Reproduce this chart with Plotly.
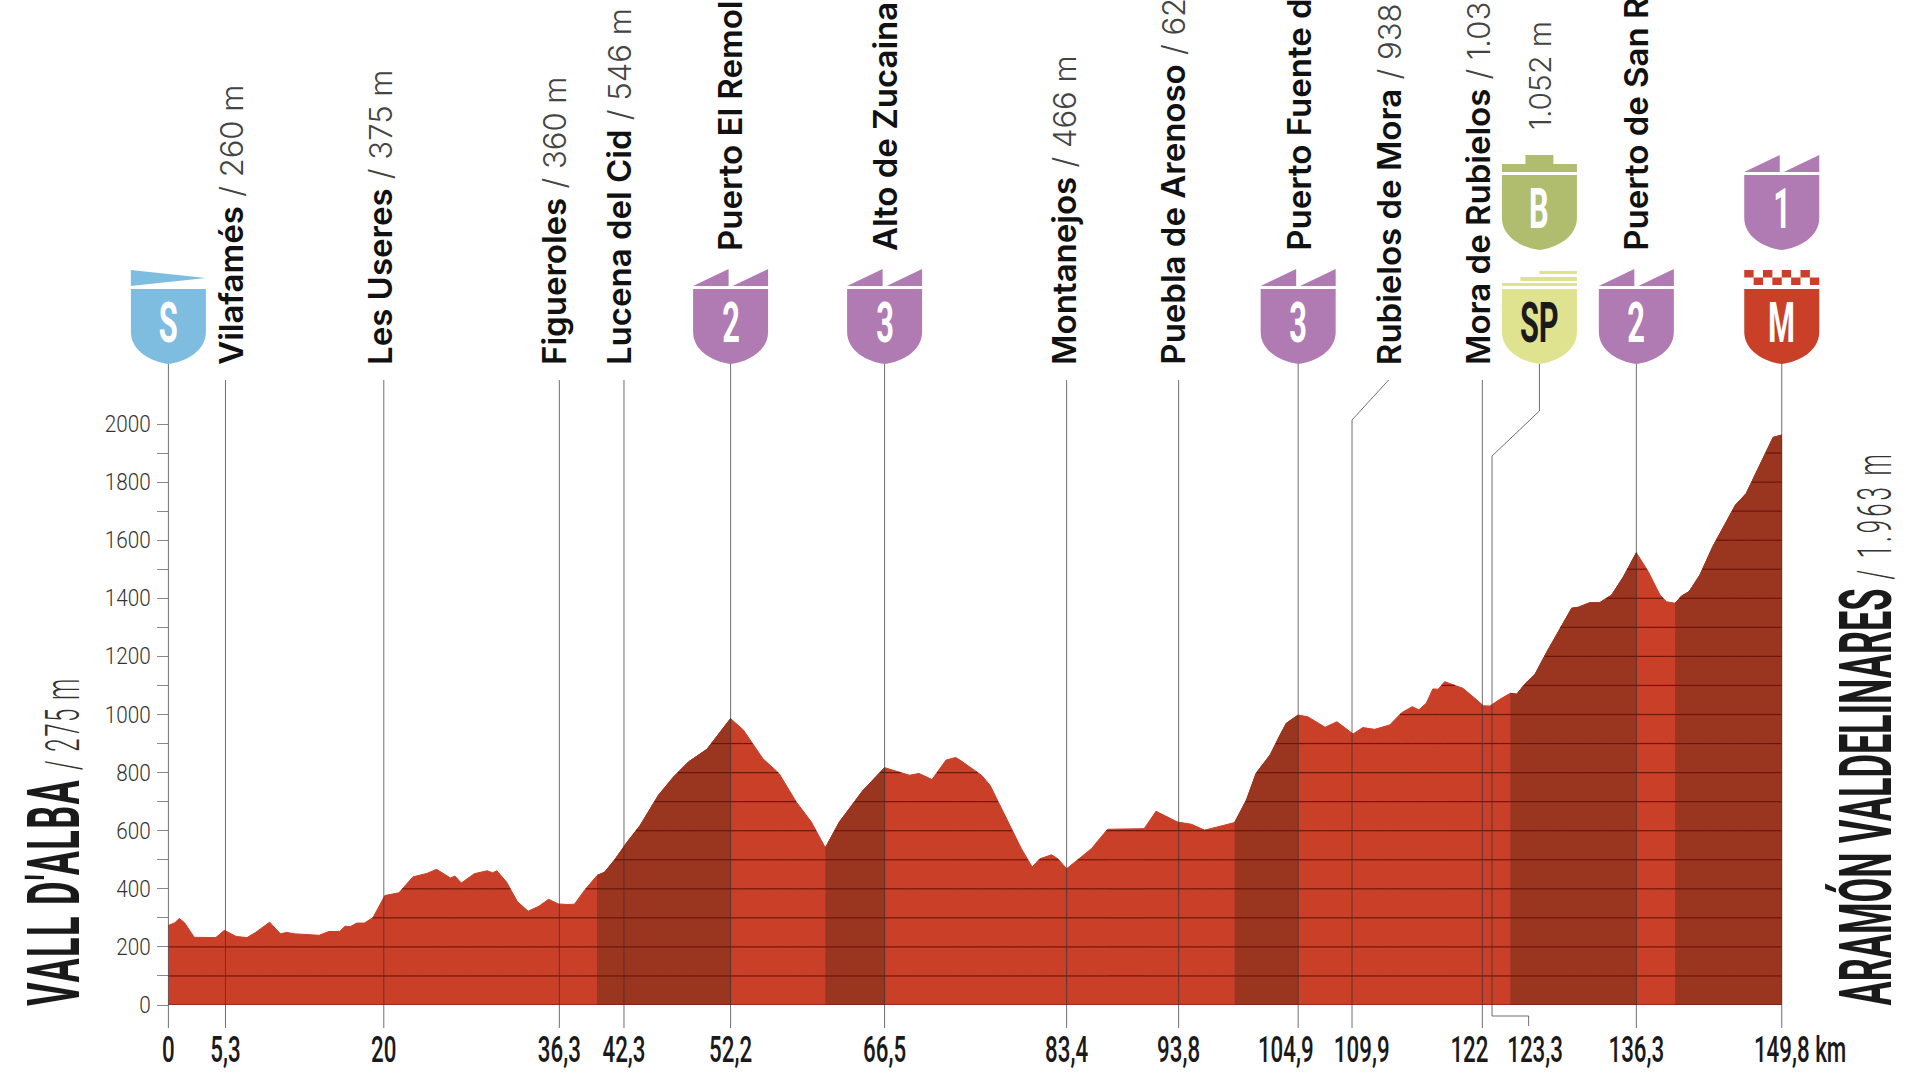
"""Stage profile: Vall d'Alba - Aramon Valdelinares, elevation against distance."""
import plotly.graph_objects as go

PROFILE_KM = [0, 0.6, 1.0, 1.5, 2.4, 4.4, 5.2, 6.3, 7.3, 8.1, 9.4, 10.4, 11, 11.7, 14, 14.9, 15.9, 16.4,
              16.9, 17.5, 18.2, 19, 20.1, 21.4, 22.7, 24, 24.9, 26.2, 26.6, 27.2, 28.4, 29.6, 30.1, 30.5,
              31.4, 32.4, 33.4, 34.4, 35.3, 36.2, 37, 37.7, 38.7, 39.8, 40.5, 41.5, 42.6, 43.8, 45.5,
              46.9, 48.3, 50, 52.2, 53.4, 55.2, 56.7, 58.3, 59.7, 61, 62.3, 64.5, 66.5, 68, 68.8, 69.7,
              70.9, 72.2, 73.1, 73.5, 75.5, 76.3, 77.8, 79.2, 80.2, 80.9, 82, 82.6, 83.4, 85.7, 87.2,
              90.6, 91.7, 93.7, 95.0, 96.2, 97.3, 99, 100.1, 101, 102.3, 103.2, 103.8, 104.9, 105.8,
              107.4, 108.5, 110, 110.9, 112, 113.4, 114.5, 115.5, 116.1, 116.8, 117.4, 117.9, 118.5,
              120.2, 121.3, 122.1, 122.7, 123.6, 124.6, 125.2, 126, 126.9, 128, 129.2, 130.3, 130.9,
              132, 132.9, 134, 135.1, 136.3, 137.4, 138.5, 139.1, 139.9, 140.5, 141.2, 142.2, 143.4,
              145, 145.5, 146.5, 148.1, 149, 149.8]
PROFILE_ELEV = [274, 283, 298, 283, 233, 232, 257, 236, 232, 250, 285, 245, 250, 245, 240, 253, 253, 271,
                270, 282, 282, 301, 377, 386, 441, 453, 467, 437, 444, 420, 452, 462, 455, 462,
                423, 356, 323, 340, 364, 348, 346, 347, 398, 446, 457, 503, 561, 618, 722,
                785, 837, 880, 986, 946, 848, 797, 699, 630, 541, 630, 739, 817, 800, 791, 797,
                776, 843, 852, 843, 791, 756, 641, 538, 475, 503, 517, 503, 469, 538, 605,
                607, 667, 630, 622, 602, 612, 628, 706, 798, 861, 929, 970, 998, 992,
                956, 975, 933, 955, 949, 964, 1006, 1027, 1016, 1039, 1088, 1087, 1113,
                1090, 1056, 1030, 1029, 1052, 1073, 1070, 1107, 1139, 1216, 1297, 1366, 1369,
                1385, 1385, 1411, 1474, 1557, 1492, 1411, 1388, 1383, 1408, 1423, 1480, 1578,
                1687, 1721, 1761, 1882, 1954, 1962]

CLIMB_START = [39.8, 61, 99, 124.6, 139.9]
CLIMB_END = [52.2, 66.5, 104.9, 136.3, 149.8]

Y_TICKS = [0, 200, 400, 600, 800, 1000, 1200, 1400, 1600, 1800, 2000]
GRID_LEVELS = list(range(100, 2000, 100))

TICK_TEXT = ['0', '5,3', '20', '36,3', '42,3', '52,2', '66,5', '83,4', '93,8', '104,9', '109,9', '122',
             '123,3', '136,3', '149,8 km']
TICK_KM = [0, 5.3, 20, 36.3, 42.3, 52.2, 66.5, 83.4, 93.8, 103.75, 110.8, 120.8, 126.9, 136.3, 151.5]

LOW_NAMES = ['Vilafamés', 'Les Useres', 'Figueroles', 'Lucena del Cid', 'Montanejos', 'Puebla de Arenoso',
             'Rubielos de Mora', 'Mora de Rubielos']
LOW_ALT = ['260 m', '375 m', '360 m', '546 m', '466 m', '625 m', '938 m', '1.036 m']
LOW_LABEL_KM = [5.8, 19.6, 35.8, 41.8, 83.1, 93.2, 113.3, 121.6]

CLIMB_NAMES = ['Puerto El Remolcador', 'Alto de Zucaina', 'Puerto Fuente de la Cuesta', 'Puerto de San Rafael']
CLIMB_ALT = ['985 m', '815 m', '1.000 m', '1.560 m']
CLIMB_LABEL_KM = [52.1, 66.5, 104.9, 136.2]

# km posts with a plain line from the label row down through the profile
POST_KM = [5.3, 20, 36.3, 42.3, 83.4, 93.8, 122]
BADGE_POST_KM = [0, 52.2, 66.5, 104.9, 136.3, 149.8]

RED = '#c93f28'
DARK_RED = '#9a3620'
PURPLE = '#b07ab3'
LINE = 'rgba(50,50,50,0.7)'

KM0_PX, PX_PER_KM = 168.4, 10.77
ZERO_PX, PX_PER_M = 1005, 0.2905
LOWER_TIP = 1 - 364 / 1080
UPPER_TIP = 1 - 250 / 1080
LINE_TOP = 1 - 380 / 1080
LINE_BOTTOM = 1 - 1028 / 1080

BODY = 'M-37.5 75 L37.5 75 L37.5 32 C37.5 13 17 2 0 0 C-17 2 -37.5 13 -37.5 32 Z'
PEAKS = 'M-37.5 78 L-2 95 L-2 78 Z M2 78 L37.5 95 L37.5 78 Z'
START_FLAG = 'M-37.5 94 L37.5 86 L-37.5 78 Z'
BONUS_TOP = 'M-37.5 78 L-37.5 86 L-14 86 L-14 95 L14 95 L14 86 L37.5 86 L37.5 78 Z'
SPRINT_BARS = 'M0 93 L37.5 93 L37.5 90 L0 90 Z M-19 87 L37.5 87 L37.5 83 L-19 83 Z M-37.5 81 L37.5 81 L37.5 78 L-37.5 78 Z'

# no condensed face is installed, so squeeze the display text along its own baseline
POST_SCRIPT = """
document.body.style.margin = '0';
function squeeze(t, s, pivot) {
  var b = t.getBBox();
  var o = b.x + b.width * pivot;
  var old = t.getAttribute('transform') || '';
  t.setAttribute('transform', old + ' translate(' + o + ' 0) scale(' + s + ' 1) translate(' + (-o) + ' 0)');
}
document.querySelectorAll('.xtick text').forEach(function (t) { squeeze(t, 0.62, 0.5); });
document.querySelectorAll('.ytick text').forEach(function (t) { squeeze(t, 0.9, 1); });
document.querySelectorAll('.annotation-text').forEach(function (t) {
  if (t.style.fontFamily.indexOf('Roboto') < 0) return;
  var isTitle = t.textContent.length > 3;
  squeeze(t, isTitle ? 0.5 : 0.55, isTitle ? 0 : 0.5);
});
"""


def checkers():
    parts = []
    for col in range(8):
        x0 = -37.5 + col * 9.375
        top, bottom = (94, 86.5) if col % 2 == 0 else (86.5, 79)
        parts.append(f'M{x0} {top} L{x0 + 9.375} {top} L{x0 + 9.375} {bottom} L{x0} {bottom} Z')
    return ' '.join(parts)


def grid_segments(level):
    # pieces of a horizontal level that lie inside the filled profile
    xs, ys = [], []
    for i in range(len(PROFILE_KM) - 1):
        x0, x1 = PROFILE_KM[i], PROFILE_KM[i + 1]
        e0, e1 = PROFILE_ELEV[i], PROFILE_ELEV[i + 1]
        if e0 < level and e1 < level:
            continue
        a = x0 if e0 >= level else x0 + (level - e0) / (e1 - e0) * (x1 - x0)
        b = x1 if e1 >= level else x0 + (level - e0) / (e1 - e0) * (x1 - x0)
        xs += [a, b, None]
        ys += [level, level, None]
    return xs, ys


fig = go.Figure()
fig.add_trace(go.Scatter(x=PROFILE_KM, y=PROFILE_ELEV, mode='lines', fill='tozeroy',
                         fillcolor=RED, line=dict(color=RED, width=1)))
for start, end in zip(CLIMB_START, CLIMB_END):
    idx = [i for i, km in enumerate(PROFILE_KM) if start <= km <= end]
    fig.add_trace(go.Scatter(x=[PROFILE_KM[i] for i in idx], y=[PROFILE_ELEV[i] for i in idx],
                             mode='lines', fill='tozeroy', fillcolor=DARK_RED,
                             line=dict(color=DARK_RED, width=1)))
grid_x, grid_y = [], []
for level in GRID_LEVELS:
    xs, ys = grid_segments(level)
    grid_x += xs
    grid_y += ys
fig.add_trace(go.Scatter(x=grid_x + [0, 149.8], y=grid_y + [0, 0], mode='lines',
                         line=dict(color='rgba(100,15,5,0.85)', width=1.2)))

shapes = []
annotations = []


def seg(x0, y0, x1, y1):
    shapes.append(dict(type='line', xref='x', yref='paper', x0=x0, x1=x1, y0=y0, y1=y1,
                       line=dict(color=LINE, width=1), layer='above'))


for km in POST_KM:
    seg(km, LINE_TOP, km, LINE_BOTTOM)
for km in BADGE_POST_KM:
    seg(km, LOWER_TIP, km, LINE_BOTTOM)
# Rubielos de Mora leader
seg(109.9, 1 - 420 / 1080, 109.9, LINE_BOTTOM)
seg(109.9, 1 - 420 / 1080, 113.3, LINE_TOP)
# sprint leader, dropping to the 123,3 label
seg(127.3, LOWER_TIP, 127.3, 1 - 411 / 1080)
seg(127.3, 1 - 411 / 1080, 122.9, 1 - 456 / 1080)
seg(122.9, 1 - 456 / 1080, 122.9, 1 - 1016 / 1080)
seg(122.9, 1 - 1016 / 1080, 126.3, 1 - 1016 / 1080)
seg(126.3, 1 - 1016 / 1080, 126.3, 1 - 1026 / 1080)


def badge(km, tip, color, letter, top_path, letter_color='white'):
    for path in (BODY, top_path):
        shapes.append(dict(type='path', xref='x', yref='paper', xsizemode='pixel', ysizemode='pixel',
                           xanchor=km, yanchor=tip, path=path, fillcolor=color, line=dict(width=0),
                           layer='above'))
    annotations.append(dict(x=km, y=tip, yshift=41, xref='x', yref='paper', text=f'<b>{letter}</b>',
                            showarrow=False, yanchor='middle', xanchor='center',
                            font=dict(family='Roboto', size=56, color=letter_color)))


badge(0, LOWER_TIP, '#7fbde0', 'S', START_FLAG)
badge(52.2, LOWER_TIP, PURPLE, '2', PEAKS)
badge(66.5, LOWER_TIP, PURPLE, '3', PEAKS)
badge(104.9, LOWER_TIP, PURPLE, '3', PEAKS)
badge(127.3, LOWER_TIP, '#dfe38f', 'SP', SPRINT_BARS, letter_color='#1a1a1a')
badge(136.3, LOWER_TIP, PURPLE, '2', PEAKS)
badge(149.8, LOWER_TIP, RED, 'M', checkers())
badge(127.3, UPPER_TIP, '#b0bd6f', 'B', BONUS_TOP)
badge(149.8, UPPER_TIP, PURPLE, '1', PEAKS)


def place_label(name, alt, km, y):
    annotations.append(dict(x=km, y=y, yshift=-3, xref='x', yref='paper', showarrow=False,
                            text=f'<span style="font-weight:600">{name}</span> '
                                 f'<span style="font-size:31px;font-weight:300;fill:#444">/ {alt}</span>',
                            textangle=-90, xanchor='center', yanchor='bottom',
                            font=dict(family='Inter', size=33, color='#111')))


for name, alt, km in zip(LOW_NAMES, LOW_ALT, LOW_LABEL_KM):
    place_label(name, alt, km, LOWER_TIP)
for name, alt, km in zip(CLIMB_NAMES, CLIMB_ALT, CLIMB_LABEL_KM):
    place_label(name, alt, km, UPPER_TIP)
annotations.append(dict(x=127.3, y=1 - 132 / 1080, xref='x', yref='paper', showarrow=False, text='1.052 m',
                        textangle=-90, xanchor='center', yanchor='bottom',
                        font=dict(family='Inter', size=30, weight=300, color='#444')))


def end_title(px, name, alt, name_gap, alt_gap):
    annotations.append(dict(x=px / 1920, y=1 - 1008 / 1080, xref='paper', yref='paper', showarrow=False,
                            text=f'<b><span style="letter-spacing:{name_gap}px">{name}</span></b> '
                                 f'<span style="font-size:48px;font-weight:300;fill:#333;letter-spacing:{alt_gap}px">/ {alt}</span>',
                            textangle=-90, xanchor='center', yanchor='bottom',
                            font=dict(family='Roboto', size=72, color='#1a1a1a')))


end_title(54, "VALL D'ALBA", '275 m', 2.7, 3)
end_title(1867, 'ARAMÓN VALDELINARES', '1.963 m', 0, 6)

fig.update_layout(
    width=1920, height=1080, showlegend=False, plot_bgcolor='white', paper_bgcolor='white',
    margin=dict(l=0, r=0, t=0, b=0), shapes=shapes, annotations=annotations,
    xaxis=dict(domain=[0, 1], range=[-KM0_PX / PX_PER_KM, (1920 - KM0_PX) / PX_PER_KM],
               tickvals=TICK_KM, ticktext=TICK_TEXT, ticks='', showgrid=False, zeroline=False,
               showline=False, ticklabelstandoff=20, automargin=False, tickangle=0,
               tickfont=dict(family='Roboto', size=36, color='#1a1a1a', weight=500)),
    yaxis=dict(domain=[1 - ZERO_PX / 1080, 1 - (ZERO_PX - 2000 * PX_PER_M) / 1080], range=[0, 2000],
               anchor='free', position=KM0_PX / 1920, tickvals=Y_TICKS, ticks='outside', ticklen=11,
               tickcolor='#888', showgrid=False, zeroline=False, showline=False, automargin=False,
               minor=dict(dtick=100, ticks='outside', ticklen=11, tickcolor='#888', showgrid=False),
               ticklabelstandoff=2,
               tickfont=dict(family='Roboto', size=23, color='#333', weight=300)),
)

fig.write_html("out.html", post_script=POST_SCRIPT, config=dict(displayModeBar=False))
